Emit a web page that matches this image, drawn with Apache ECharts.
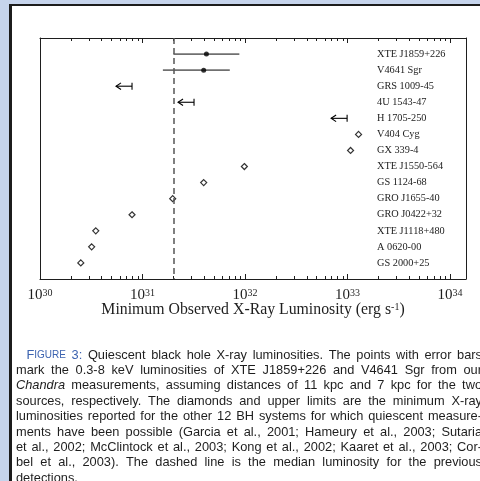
<!DOCTYPE html>
<html><head><meta charset="utf-8">
<script src="https://cdn.jsdelivr.net/npm/echarts@6/dist/echarts.min.js"></script>
<style>html,body{margin:0;padding:0;background:#c6d4ec}#c{width:480px;height:481px}</style>
</head><body><div id="c"></div>
<script>
// ---------- data ----------
const sourceNames = ['XTE J1859+226','V4641 Sgr','GRS 1009-45','4U 1543-47','H 1705-250','V404 Cyg','GX 339-4','XTE J1550-564','GS 1124-68','GRO J1655-40','GRO J0422+32','XTE J1118+480','A 0620-00','GS 2000+25'];
// Chandra detections (points with error bars)
const chandraRows = [1, 2];
const chandraLum  = [4.2e31, 3.95e31];
const chandraLow  = [2.0e31, 1.58e31];
const chandraHigh = [8.8e31, 7.1e31];
// upper limits
const limitRows = [3, 4, 5];
const limitLum  = [7.9e30, 3.18e31, 9.9e32];
// diamonds (detections)
const diamondRows = [6, 7, 8, 9, 10, 11, 12, 13, 14];
const diamondLum  = [1.28e33, 1.07e33, 9.85e31, 3.95e31, 1.97e31, 7.9e30, 3.5e30, 3.19e30, 2.5e30];
const medianLum = 2.0e31;
// axis ticks
const majorTicks = [1e30, 1e31, 1e32, 1e33, 1e34];
const minorMultipliers = [2, 3, 4, 5, 6, 7, 8, 9];
const minorDecades = [1e30, 1e31, 1e32, 1e33];
const xMin = 1e30, xMax = 1.43e34;
const rowValues = sourceNames.map((_, i) => i + 1);

const captionLines = [
  'FIGURE 3: Quiescent black hole X-ray luminosities. The points with error bars',
  'mark the 0.3-8 keV luminosities of XTE J1859+226 and V4641 Sgr from our',
  'Chandra measurements, assuming distances of 11 kpc and 7 kpc for the two',
  'sources, respectively. The diamonds and upper limits are the minimum X-ray',
  'luminosities reported for the other 12 BH systems for which quiescent measure-',
  'ments have been possible (Garcia et al., 2001; Hameury et al., 2003; Sutaria',
  'et al., 2002; McClintock et al., 2003; Kong et al., 2002; Kaaret et al., 2003; Cor-',
  'bel et al., 2003). The dashed line is the median luminosity for the previous',
  'detections.'
];

// ---------- build ----------
const minorTicks = [];
minorDecades.forEach(d => minorMultipliers.forEach(m => minorTicks.push(m * d)));

const serif = '"Liberation Serif", "Times New Roman", serif';
const sans = '"Liberation Sans", Arial, sans-serif';
const ink = '#1e1e1e';

function xAxisDef(pos, ticks, len, withLine, withLabels) {
  const a = {
    type: 'log', position: pos, min: xMin, max: xMax, gridIndex: 0,
    axisLine: {show: withLine, onZero: false, lineStyle: {color: ink, width: 1}},
    axisTick: {show: true, inside: true, length: len, customValues: ticks, lineStyle: {color: ink, width: 1}},
    axisLabel: {show: false},
    splitLine: {show: false}, minorTick: {show: false}, minorSplitLine: {show: false}
  };
  if (withLabels) {
    a.axisLabel = {
      show: true, customValues: majorTicks, margin: 9,
      formatter: v => '{b|10}{s|' + Math.round(Math.log10(v)) + '}',
      rich: {
        b: {fontFamily: serif, fontSize: 15, color: ink},
        s: {fontFamily: serif, fontSize: 10, color: ink, verticalAlign: 'top'}
      }
    };
    a.name = '{t|Minimum Observed X-Ray Luminosity (erg s}{s|-1}{t|)}';
    a.nameLocation = 'middle';
    a.nameGap = 23;
    a.nameMoveOverlap = false;
    a.nameTextStyle = {
      rich: {
        t: {fontFamily: serif, fontSize: 15.8, color: ink},
        s: {fontFamily: serif, fontSize: 10, color: ink, verticalAlign: 'top'}
      }
    };
  }
  return a;
}

function yAxisDef(pos, withLabels) {
  return {
    type: 'value', position: pos, min: 0, max: 15, inverse: true,
    axisLine: {show: true, onZero: false, lineStyle: {color: ink, width: 1}},
    axisTick: {show: false},
    splitLine: {show: false},
    axisLabel: withLabels ? {
      show: true, inside: true, align: 'left', margin: 89,
      customValues: rowValues,
      formatter: v => sourceNames[Math.round(v) - 1] || '',
      fontFamily: serif, fontSize: 10.3, color: '#222'
    } : {show: false}
  };
}

// caption (justified, word by word)
const ctx = document.createElement('canvas').getContext('2d');
function mw(t, f) { ctx.font = f; return ctx.measureText(t).width; }
const fNorm = '12.8px ' + sans, fItal = 'italic 12.8px ' + sans, fSmall = '10px ' + sans;
const blue = '#3c63b0';
function wordRuns(w, li, wi) {
  if (li === 0 && wi === 0) return [['F', fNorm, blue], ['IGURE', fSmall, blue]];
  if (li === 0 && wi === 1) return [[w, fNorm, blue]];
  if (w === 'Chandra') return [[w, fItal, ink]];
  return [[w, fNorm, ink]];
}
const captionEls = [];
const capRight = 482;
captionLines.forEach((line, li) => {
  const words = line.split(' ');
  const runs = words.map((w, wi) => wordRuns(w, li, wi));
  const widths = runs.map(rs => rs.reduce((s, r) => s + mw(r[0], r[1]), 0));
  const left = li === 0 ? 26.5 : 16;
  const total = widths.reduce((a, b) => a + b, 0);
  const last = li === captionLines.length - 1;
  const gap = last ? mw(' ', fNorm) : Math.max(1.5, (capRight - left - total) / (words.length - 1));
  let x = left;
  const y = 355 + li * 15.4;
  runs.forEach((rs, wi) => {
    rs.forEach(r => {
      captionEls.push({type: 'text', x: x, y: y, z: 5, silent: true,
        style: {text: r[0], font: r[1], fill: r[2], verticalAlign: 'middle', align: 'left'}});
      x += mw(r[0], r[1]);
    });
    x += gap;
  });
});

const option = {
  animation: false,
  backgroundColor: '#c6d4ec',
  grid: {left: 40, right: 14, top: 38, bottom: 202, containLabel: false},
  xAxis: [
    xAxisDef('bottom', majorTicks, 5, true, true),
    xAxisDef('bottom', minorTicks, 3, false, false),
    xAxisDef('top', majorTicks, 5, true, false),
    xAxisDef('top', minorTicks, 3, false, false)
  ],
  yAxis: [yAxisDef('left', false), yAxisDef('right', true)],
  graphic: {elements: [
    {type: 'rect', z: -20, silent: true, shape: {x: 9, y: 4, width: 500, height: 500}, style: {fill: '#1c1c1c'}},
    {type: 'rect', z: -19, silent: true, shape: {x: 12, y: 6, width: 500, height: 500}, style: {fill: '#ffffff'}}
  ].concat(captionEls)},
  series: [
    {
      type: 'custom', name: 'errorbars', xAxisIndex: 0, yAxisIndex: 0,
      data: chandraRows.map((r, i) => [chandraLow[i], chandraHigh[i], r]),
      encode: {x: [0, 1], y: 2},
      renderItem: (params, api) => {
        const p1 = api.coord([api.value(0), api.value(2)]);
        const p2 = api.coord([api.value(1), api.value(2)]);
        return {type: 'line', shape: {x1: p1[0], y1: p1[1], x2: p2[0], y2: p2[1]},
          style: {stroke: '#707070', lineWidth: 1.8}};
      }
    },
    {
      type: 'scatter', name: 'chandra', xAxisIndex: 0, yAxisIndex: 0,
      data: chandraRows.map((r, i) => [chandraLum[i], r]),
      symbol: 'circle', symbolSize: 5, itemStyle: {color: '#000'}, z: 4
    },
    {
      type: 'custom', name: 'limits', xAxisIndex: 0, yAxisIndex: 0,
      data: limitRows.map((r, i) => [limitLum[i], r]),
      encode: {x: 0, y: 1},
      renderItem: (params, api) => {
        const p = api.coord([api.value(0), api.value(1)]);
        const x = p[0], y = p[1], st = {stroke: '#000', lineWidth: 1.1, fill: null};
        return {type: 'group', children: [
          {type: 'line', shape: {x1: x, y1: y - 3.5, x2: x, y2: y + 3.5}, style: st},
          {type: 'line', shape: {x1: x - 16, y1: y, x2: x, y2: y}, style: st},
          {type: 'polyline', shape: {points: [[x - 11, y - 3.3], [x - 16, y], [x - 11, y + 3.3]]}, style: st}
        ]};
      }
    },
    {
      type: 'scatter', name: 'diamonds', xAxisIndex: 0, yAxisIndex: 0,
      data: diamondRows.map((r, i) => [diamondLum[i], r]),
      symbol: 'diamond', symbolSize: 6,
      itemStyle: {color: '#fff', borderColor: '#000', borderWidth: 1.2}, z: 4,
      markLine: {
        silent: true, symbol: ['none', 'none'], label: {show: false},
        lineStyle: {type: [6, 4], color: '#555', width: 1.5},
        data: [{xAxis: medianLum}]
      }
    }
  ]
};
const chart = echarts.init(document.getElementById('c'), null, {renderer: 'canvas'});
chart.setOption(option);
</script>
</body></html>
